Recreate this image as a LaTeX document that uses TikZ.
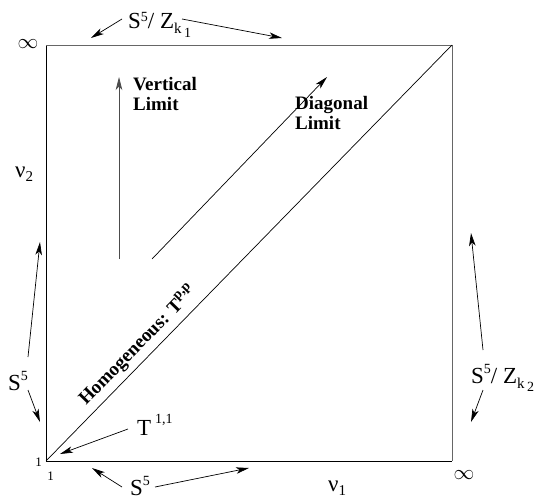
\documentclass[tikz,border=0pt]{standalone}
\usepackage{fontspec}
\setmainfont{Liberation Serif}
\usetikzlibrary{arrows.meta}
\newcommand{\fsz}[1]{\fontsize{#1}{#1}\selectfont}
\newcommand{\hiup}[3]{\raisebox{#1}{\fsz{#2}#3}}
\newcommand{\lodn}[3]{\raisebox{-#1}{\fsz{#2}#3}}
\begin{document}
\begin{tikzpicture}[x=1pt,y=-1pt,
  boxline/.style={line width=0.8pt},
  greyline/.style={line width=0.9pt,draw=black!60},
  arr/.style={line width=0.7pt,-{Stealth[length=13pt,width=6.5pt,inset=3.5pt]}},
  lbl/.style={font=\fsz{23},inner sep=0pt,anchor=base west},
  blbl/.style={font=\fontsize{19}{20}\selectfont\bfseries,inner sep=0pt,anchor=base west,align=left},
  small/.style={font=\fsz{13},inner sep=0pt},
  infl/.style={font=\fsz{22},inner sep=0pt}]
\useasboundingbox (0,0) rectangle (535,501);
% corners
\coordinate (BL) at (46,461);
\coordinate (TL) at (46,45);
\coordinate (TR) at (452,45);
\coordinate (BR) at (452,461);
% box
\draw[boxline] (TL) -- (BL) -- (BR);
\draw[greyline] (TL) -- (TR) -- (BR);
\draw[line width=0.7pt] (BL) -- (TR);
% limit arrows
\coordinate (vB) at (119,259);
\coordinate (vT) at (119,77);
\coordinate (dB) at (152,259);
\coordinate (dT) at (327,77);
\draw[arr,draw=black!70] (vB) -- (vT);
\draw[arr] (dB) -- (dT);
\node[blbl] (vlim) at (133,110) {Vertical\\Limit};
\node[blbl] (dlim) at (295,129) {Diagonal\\Limit};
\node[blbl,rotate=45.7] (homog) at (86,406) {Homogeneous: T\hiup{8pt}{14}{p,p}};
% labels
\node[lbl] (lblTop) at (128,28) {S\hiup{7pt}{14}{5}/ Z\lodn{5pt}{15}{k}\lodn{9pt}{14}{\,1}};
\node[lbl] (lblLeft) at (8,390) {S\hiup{10pt}{14}{5}};
\node[lbl] (lblBot) at (130,495) {S\hiup{10pt}{14}{5}};
\node[lbl] (lblRight) at (471,383) {S\hiup{10pt}{14}{5}/ Z\lodn{5pt}{15}{k}\lodn{8pt}{14}{\,2}};
\node[lbl] (lblT) at (137,435) {T\,\hiup{12pt}{14}{1,1}};
\node[lbl] (nu2) at (15,177) {ν\lodn{4pt}{15}{2}};
\node[lbl] (nu1) at (328,491) {ν\lodn{4pt}{15}{1}};
\node[infl] (infTL) at (28,44) {$\infty$};
\node[infl] (infBR) at (464,475) {$\infty$};
\node[small] (oneL) at (38.5,462.5) {1};
\node[small] (oneB) at (50.5,476.5) {1};
% arrow targets
\coordinate (tTopL) at (91,38);
\coordinate (tTopR) at (282,38);
\coordinate (tLeftU) at (40,242);
\coordinate (tLeftD) at (40,422);
\coordinate (tBotL) at (92,468);
\coordinate (tBotR) at (249,468);
\coordinate (tRightU) at (471,233);
\coordinate (tRightD) at (471,422);
\coordinate (tT) at (60,454);
% connectors
\draw[arr] ([shift={(-6,-9)}]lblTop.base west) -- (tTopL);
\draw[arr] ([shift={(54,-9)}]lblTop.base west) -- (tTopR);
\draw[arr] ([shift={(20,-33)}]lblLeft.base west) -- (tLeftU);
\draw[arr] ([shift={(20,0)}]lblLeft.base west) -- (tLeftD);
\draw[arr] ([shift={(-8,-8)}]lblBot.base west) -- (tBotL);
\draw[arr] ([shift={(25,-8)}]lblBot.base west) -- (tBotR);
\draw[arr] ([shift={(12,-33)}]lblRight.base west) -- (tRightU);
\draw[arr] ([shift={(12,7)}]lblRight.base west) -- (tRightD);
\draw[arr] ([shift={(-9,-6)}]lblT.base west) -- (tT);
\end{tikzpicture}
\end{document}
